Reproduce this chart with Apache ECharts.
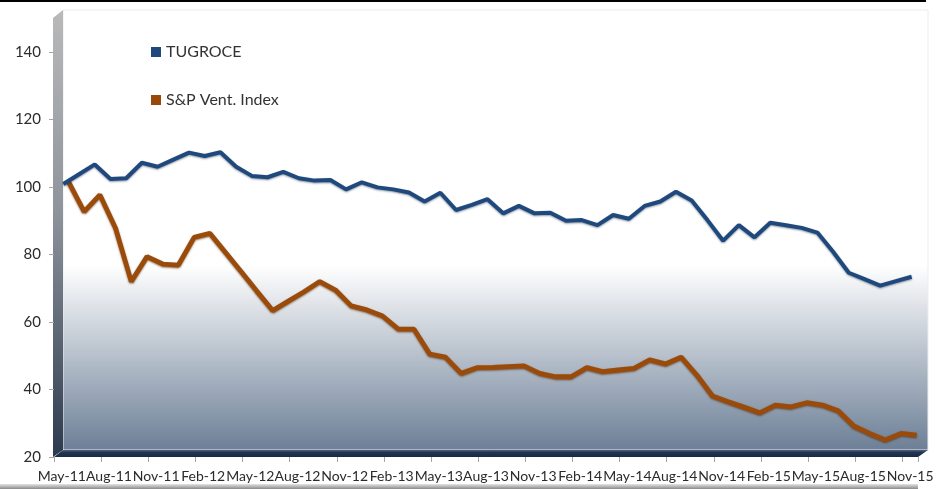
<!DOCTYPE html>
<html>
<head>
<meta charset="utf-8">
<script src="https://cdn.jsdelivr.net/npm/echarts@6/dist/echarts.min.js"></script>
<style>
html,body{margin:0;padding:0;background:#fff;}
#chart{width:944px;height:489px;}
</style>
</head>
<body>
<div id="chart"></div>
<script>
var months = ['May-11','Jun-11','Jul-11','Aug-11','Sep-11','Oct-11','Nov-11','Dec-11',
  'Jan-12','Feb-12','Mar-12','Apr-12','May-12','Jun-12','Jul-12','Aug-12','Sep-12','Oct-12','Nov-12','Dec-12',
  'Jan-13','Feb-13','Mar-13','Apr-13','May-13','Jun-13','Jul-13','Aug-13','Sep-13','Oct-13','Nov-13','Dec-13',
  'Jan-14','Feb-14','Mar-14','Apr-14','May-14','Jun-14','Jul-14','Aug-14','Sep-14','Oct-14','Nov-14','Dec-14',
  'Jan-15','Feb-15','Mar-15','Apr-15','May-15','Jun-15','Jul-15','Aug-15','Sep-15','Oct-15','Nov-15'];

var seriesNames = ['TUGROCE', 'S&P Vent. Index'];

var tugroce = [100.3,103.2,106.1,101.8,102.0,106.6,105.4,107.5,109.6,108.6,109.7,105.4,102.7,102.3,103.9,102.0,
  101.3,101.5,98.7,100.8,99.3,98.7,97.8,95.1,97.7,92.6,94.1,95.8,91.6,93.8,91.6,91.8,89.4,89.6,88.1,91.1,90.0,
  93.8,95.1,98.0,95.4,89.6,83.5,88.1,84.5,88.8,88.1,87.3,85.9,80.2,74.0,72.1,70.2,71.5,72.8];

var spVent = [99.8,90.9,95.9,86.0,70.2,77.6,75.4,75.1,83.3,84.5,78.8,73.1,67.3,61.6,64.4,67.2,70.2,67.7,63.0,
  61.8,60.0,56.1,56.1,48.7,47.8,43.0,44.7,44.8,45.0,45.2,43.0,42.0,42.0,44.7,43.5,44.0,44.5,47.0,45.8,47.8,
  42.5,36.3,34.6,33.0,31.3,33.6,33.1,34.3,33.6,31.9,27.4,25.2,23.3,25.2,24.7];

var yMin = 20, yMax = 150, yStep = 20;

var chart = echarts.init(document.getElementById('chart'), null, {renderer: 'canvas'});

var G = {left: 54, top: 18.25, width: 864, height: 438.75};
function hiddenX(i){ return {gridIndex:i, type:'category', data:months, boundaryGap:true, show:false}; }
function hiddenY(i){ return {gridIndex:i, type:'value', min:yMin, max:yMax, show:false, splitLine:{show:false}}; }
function vgrad(stops){ return {type:'linear', x:0, y:0, x2:0, y2:1, colorStops:stops}; }

var option = {
  animation: false,
  backgroundColor: '#ffffff',
  graphic: [
    {type:'rect', z:0, shape:{x:63, y:10, width:865, height:440},
      style:{fill: vgrad([{offset:0,color:'#ffffff'},{offset:0.58,color:'#ffffff'},{offset:1,color:'#6c7f96'}]),
             stroke:'#ececec', lineWidth:1}},
    {type:'polygon', z:0, shape:{points:[[53,18],[63,10],[63,450],[53,457]]},
      style:{fill: vgrad([{offset:0,color:'#b9b9b9'},{offset:0.45,color:'#8e949c'},{offset:1,color:'#2c3a4e'}])}},
    {type:'polygon', z:0, shape:{points:[[54,457],[918,457],[928,450],[63,450]]},
      style:{fill: vgrad([{offset:0,color:'#51627a'},{offset:0.35,color:'#213652'},{offset:1,color:'#172a45'}])}},
    {type:'rect', z:0, shape:{x:0, y:0, width:926, height:2}, style:{fill:'#000000'}},
    {type:'rect', z:0, shape:{x:0, y:484, width:918, height:5},
      style:{fill: vgrad([{offset:0,color:'#e4e4e4'},{offset:1,color:'#8a8a8a'}])}}
  ],
  legend: {
    data: seriesNames,
    orient: 'vertical',
    left: 146,
    top: 38,
    itemWidth: 10,
    itemHeight: 10,
    itemGap: 30,
    icon: 'rect',
    textStyle: {fontFamily: 'Lato', fontSize: 16, color: '#333333', lineHeight: 18}
  },
  grid: [
    {left:G.left, top:G.top, width:G.width, height:G.height},
    {left:G.left + 1.5, top:G.top - 2, width:G.width, height:G.height},
    {left:G.left + 6.6, top:G.top - 6, width:G.width, height:G.height}
  ],
  xAxis: [
    {gridIndex:0, type:'category', data:months, boundaryGap:true,
      axisLine:{show:false},
      axisTick:{show:true, interval:2, length:5, lineStyle:{color:'#a6a6a6'}},
      axisLabel:{interval:2, margin:12, fontFamily:'Lato', fontSize:14, color:'#2b2b2b',
        showMinLabel:true, showMaxLabel:true, hideOverlap:false}},
    hiddenX(1), hiddenX(2)
  ],
  yAxis: [
    {gridIndex:0, type:'value', min:yMin, max:yMax, interval:yStep,
      axisLine:{show:false},
      axisTick:{show:true, length:5, lineStyle:{color:'#a6a6a6'}},
      splitLine:{show:false},
      axisLabel:{showMaxLabel:false, margin:13, fontFamily:'Lato', fontSize:15, color:'#2b2b2b'}},
    hiddenY(1), hiddenY(2)
  ],
  series: [
    {type:'line', name:seriesNames[0], xAxisIndex:1, yAxisIndex:1, data:tugroce, symbol:'none', z:4,
      itemStyle:{color:'#1f497d'},
      lineStyle:{color:'#1f497d', width:4, shadowColor:'rgba(10,30,60,0.45)', shadowBlur:2, shadowOffsetY:1}},
    {type:'line', name:seriesNames[1], xAxisIndex:2, yAxisIndex:2, data:spVent, symbol:'none', z:3,
      itemStyle:{color:'#984807'},
      lineStyle:{color:'#9a4b0a', width:4.8, shadowColor:'rgba(80,35,0,0.6)', shadowBlur:2, shadowOffsetY:1}}
  ]
};
chart.setOption(option);
</script>
</body>
</html>
